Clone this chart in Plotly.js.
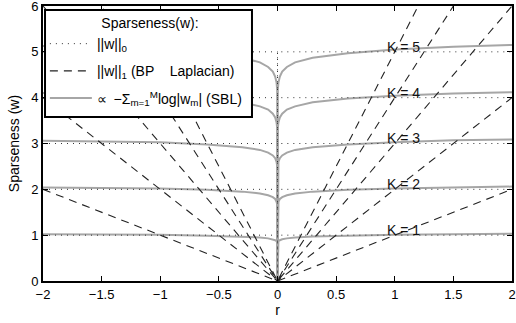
<!DOCTYPE html>
<html>
<head>
<meta charset="utf-8">
<script src="https://cdn.plot.ly/plotly-3.0.1.min.js"></script>
<style>html,body{margin:0;padding:0;background:#fff;}#chart{width:516px;height:323px;}</style>
</head>
<body>
<div id="chart"></div>
<script>
// ---- data ----
const kValues = [1, 2, 3, 4, 5];

// ||w||_0 (dotted): r samples and values for each K
const rL0 = [-2, 0, 0, 0, 2];
const l0K1 = [1, 1, 0, 1, 1];
const l0K2 = [2, 2, 1, 2, 2];
const l0K3 = [3, 3, 2, 3, 3];
const l0K4 = [4, 4, 3, 4, 4];
const l0K5 = [5, 5, 4, 5, 5];

// ||w||_1 (dashed)
const rL1 = [-2, 0, 2];
const l1K1 = [2, 0, 2];
const l1K2 = [4, 0, 4];
const l1K3 = [6, 0, 6];
const l1K4 = [8, 0, 8];
const l1K5 = [10, 0, 10];

// SBL (solid gray)
const rSBL = [-2, -1.5, -1, -0.6, -0.3, -0.15, -0.08, -0.04, -0.02, -0.008, -0.003, 0,
              0.003, 0.008, 0.02, 0.04, 0.08, 0.15, 0.3, 0.6, 1, 1.5, 2];
const sblK1 = [1.02, 1.02, 1.01, 0.99, 0.97, 0.95, 0.93, 0.91, 0.89, 0.87, 0.84, 0,
               0.84, 0.87, 0.89, 0.91, 0.93, 0.95, 0.97, 0.99, 1.01, 1.02, 1.03];
const sblK2 = [2.04, 2.03, 2.02, 1.99, 1.95, 1.91, 1.87, 1.83, 1.79, 1.73, 1.67, 0,
               1.67, 1.73, 1.79, 1.83, 1.87, 1.91, 1.95, 1.99, 2.02, 2.04, 2.06];
const sblK3 = [3.06, 3.05, 3.03, 2.98, 2.92, 2.86, 2.80, 2.74, 2.68, 2.60, 2.51, 0,
               2.51, 2.60, 2.68, 2.74, 2.80, 2.86, 2.92, 2.98, 3.03, 3.07, 3.09];
const sblK4 = [4.10, 4.08, 4.04, 3.98, 3.90, 3.81, 3.74, 3.65, 3.57, 3.46, 3.34, 0,
               3.34, 3.46, 3.57, 3.65, 3.74, 3.81, 3.90, 3.98, 4.04, 4.09, 4.12];
const sblK5 = [5.13, 5.10, 5.05, 4.97, 4.87, 4.77, 4.67, 4.57, 4.46, 4.33, 4.18, 0,
               4.18, 4.33, 4.46, 4.57, 4.67, 4.77, 4.87, 4.97, 5.05, 5.11, 5.15];

const xTicks = [-2, -1.5, -1, -0.5, 0, 0.5, 1, 1.5, 2];
const xTickText = ['\u22122', '\u22121.5', '\u22121', '\u22120.5', '0', '0.5', '1', '1.5', '2'];
const yTicks = [0, 1, 2, 3, 4, 5, 6];
const kLabelX = 0.92;

// ---- build joined series (null separated) ----
function join(xs, ys) {
  const X = [], Y = [];
  ys.forEach((y, i) => {
    if (i > 0) { X.push(null); Y.push(null); }
    X.push(...xs); Y.push(...y);
  });
  return {X, Y};
}
const L0 = join(rL0, [l0K1, l0K2, l0K3, l0K4, l0K5]);
const L1 = join(rL1, [l1K1, l1K2, l1K3, l1K4, l1K5]);
const SB = join(rSBL, [sblK1, sblK2, sblK3, sblK4, sblK5]);

const font = 'Liberation Sans, Arial, Helvetica, sans-serif';

const traces = [
  {x: SB.X, y: SB.Y, mode: 'lines', type: 'scatter', connectgaps: false,
   name: '\u221D \u2009\u2212\u03A3<sub>m=1</sub><sup>M</sup>log|w<sub>m</sub>| (SBL)',
   line: {color: '#a6a6a6', width: 2}, legendrank: 3, legendgroup: 'c'},
  {x: L0.X, y: L0.Y, mode: 'lines', type: 'scatter', connectgaps: false,
   name: '||w||<sub>0</sub>',
   line: {color: '#333333', width: 1, dash: '1px,5px'}, legendrank: 1, legendgroup: 'a'},
  {x: L1.X, y: L1.Y, mode: 'lines', type: 'scatter', connectgaps: false,
   name: '||w||<sub>1</sub> (BP\u00a0\u00a0\u00a0\u00a0Laplacian)',
   line: {color: '#222222', width: 1.1, dash: '8px,6px'}, legendrank: 2, legendgroup: 'b'}
];

const annotations = kValues.map(k => ({
  x: kLabelX, y: k + 0.11, xref: 'x', yref: 'y', text: 'K = ' + k,
  showarrow: false, xanchor: 'left', yanchor: 'middle',
  font: {family: font, size: 14, color: '#111'}
}));

const axisCommon = {
  showgrid: false, zeroline: false, showline: true, linecolor: '#000', linewidth: 2,
  mirror: 'ticks', ticks: 'inside', ticklen: 5, tickcolor: '#000', tickwidth: 1,
  ticklabeloverflow: 'allow',
  tickfont: {family: font, size: 13, color: '#000'}
};

const layout = {
  width: 516, height: 323,
  margin: {l: 43, r: 4, t: 6, b: 42},
  paper_bgcolor: '#fff', plot_bgcolor: '#fff',
  font: {family: font, size: 13, color: '#000'},
  xaxis: Object.assign({}, axisCommon, {
    range: [-2, 2], tickvals: xTicks, ticktext: xTickText,
    title: {text: 'r', font: {family: font, size: 14}, standoff: 4}
  }),
  yaxis: Object.assign({}, axisCommon, {
    range: [0, 6], tickvals: yTicks,
    title: {text: 'Sparseness (w)', font: {family: font, size: 14}, standoff: 8}
  }),
  showlegend: true,
  legend: {
    x: 0.004, y: 0.986, xanchor: 'left', yanchor: 'top',
    bgcolor: 'rgba(0,0,0,0)', borderwidth: 0,
    font: {family: font, size: 14, color: '#000'},
    title: {text: '\u00a0\u00a0\u00a0\u00a0\u00a0\u00a0\u00a0\u00a0\u00a0\u00a0\u00a0\u00a0\u00a0\u00a0Sparseness(w):', font: {family: font, size: 14}},
    itemwidth: 42, tracegroupgap: 6, traceorder: 'grouped'
  },
  // legend frame (white box with black border, as in the reference)
  shapes: [{
    type: 'rect', xref: 'paper', yref: 'paper', layer: 'above',
    x0: 0.0043, x1: 0.4456, y0: 0.5964, y1: 0.9855,
    fillcolor: '#fff', line: {color: '#000', width: 2}
  }],
  annotations: annotations
};

Plotly.newPlot('chart', traces, layout, {displayModeBar: false, staticPlot: true});
</script>
</body>
</html>
